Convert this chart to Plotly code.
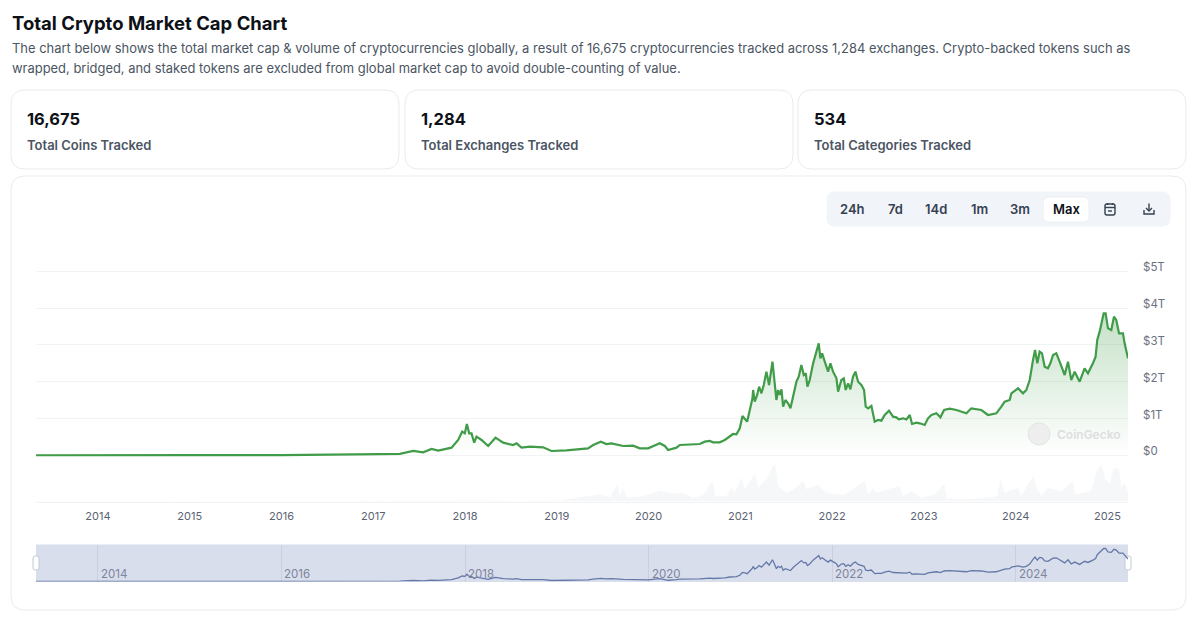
import plotly.graph_objects as go

W = 1200
H = 625

# decimal years / total market cap in $T
cap_years = [
    2013.325, 2014.0, 2014.5, 2015.0, 2016.0, 2016.5, 2017.072, 2017.290, 2017.435, 2017.544, 2017.635, 2017.707,
    2017.853, 2017.925, 2017.969, 2017.998, 2018.020, 2018.045, 2018.071, 2018.100, 2018.125, 2018.180, 2018.252,
    2018.332, 2018.416, 2018.524, 2018.561, 2018.615, 2018.706, 2018.851, 2018.942, 2019.105, 2019.251, 2019.341,
    2019.396, 2019.479, 2019.541, 2019.596, 2019.723, 2019.832, 2019.904, 2019.995, 2020.122, 2020.177, 2020.213,
    2020.304, 2020.340, 2020.558, 2020.612, 2020.667, 2020.703, 2020.776, 2020.830, 2020.885, 2020.921, 2020.957,
    2020.994, 2021.023, 2021.048, 2021.074, 2021.103, 2021.132, 2021.139, 2021.157, 2021.183, 2021.204, 2021.230,
    2021.255, 2021.284, 2021.313, 2021.350, 2021.375, 2021.393, 2021.411, 2021.429, 2021.448, 2021.466, 2021.491,
    2021.520, 2021.546, 2021.575, 2021.611, 2021.636, 2021.665, 2021.691, 2021.713, 2021.731, 2021.756, 2021.793,
    2021.822, 2021.854, 2021.872, 2021.891, 2021.920, 2021.956, 2021.981, 2022.010, 2022.047, 2022.065, 2022.101,
    2022.127, 2022.148, 2022.174, 2022.199, 2022.228, 2022.254, 2022.283, 2022.319, 2022.348, 2022.366, 2022.392,
    2022.428, 2022.464, 2022.501, 2022.537, 2022.573, 2022.620, 2022.664, 2022.700, 2022.726, 2022.773, 2022.809,
    2022.846, 2022.871, 2022.918, 2022.955, 2023.009, 2023.045, 2023.082, 2023.136, 2023.180, 2023.220, 2023.281,
    2023.354, 2023.463, 2023.517, 2023.626, 2023.699, 2023.789, 2023.844, 2023.880, 2023.935, 2023.953, 2024.025,
    2024.080, 2024.116, 2024.153, 2024.189, 2024.211, 2024.236, 2024.261, 2024.287, 2024.316, 2024.352, 2024.378,
    2024.407, 2024.443, 2024.479, 2024.534, 2024.570, 2024.606, 2024.643, 2024.697, 2024.751, 2024.788, 2024.842,
    2024.871, 2024.889, 2024.915, 2024.959, 2024.980, 2025.006, 2025.042, 2025.071, 2025.096, 2025.126, 2025.169,
    2025.187, 2025.205, 2025.224,
]
caps = [
    0.002, 0.010, 0.008, 0.005, 0.007, 0.010, 0.030, 0.040, 0.117, 0.080, 0.171, 0.126,
    0.208, 0.416, 0.642, 0.597, 0.851, 0.597, 0.597, 0.343, 0.507, 0.416, 0.253,
    0.479, 0.343, 0.280, 0.325, 0.208, 0.235, 0.217, 0.117, 0.135, 0.162, 0.189,
    0.280, 0.371, 0.307, 0.325, 0.253, 0.262, 0.189, 0.189, 0.325, 0.253, 0.144,
    0.208, 0.280, 0.307, 0.371, 0.389, 0.353, 0.353, 0.416, 0.525, 0.579, 0.570,
    0.733, 1.068, 1.005, 0.914, 1.231, 1.548, 1.775, 1.458, 1.639, 1.865, 1.684,
    1.910, 2.273, 1.910, 2.545, 1.956, 1.503, 1.775, 1.639, 1.793, 1.322, 1.503,
    1.412, 1.276, 1.639, 2.001, 2.137, 2.454, 2.182, 2.227, 1.865, 2.046, 2.499,
    2.726, 3.043, 2.635, 2.771, 2.545, 2.273, 2.499, 2.273, 2.092, 1.729, 2.046,
    2.092, 1.775, 1.956, 1.793, 2.137, 2.273, 2.001, 1.910, 1.775, 1.322, 1.276,
    1.340, 0.914, 0.959, 0.941, 1.095, 1.213, 1.050, 1.032, 0.977, 1.005, 0.977,
    1.095, 0.851, 0.887, 0.869, 0.823, 1.005, 1.095, 1.141, 1.032, 1.231, 1.270,
    1.231, 1.140, 1.276, 1.231, 1.095, 1.140, 1.322, 1.457, 1.503, 1.684, 1.820,
    1.684, 1.775, 2.046, 2.590, 2.861, 2.499, 2.816, 2.771, 2.409, 2.363, 2.499,
    2.726, 2.771, 2.544, 2.182, 2.544, 2.046, 2.273, 2.001, 2.363, 2.227, 2.499,
    2.680, 3.133, 3.360, 3.858, 3.858, 3.450, 3.405, 3.767, 3.677, 3.314, 3.314,
    3.043, 2.861, 2.635,
]

# 24h volume in $B
vol_years = [
    2013.325, 2017.0, 2017.9, 2018.0, 2018.1, 2018.5, 2019.033, 2019.251, 2019.469, 2019.578, 2019.658, 2019.687,
    2019.723, 2019.759, 2019.904, 2020.086, 2020.122, 2020.231, 2020.377, 2020.485, 2020.594, 2020.696, 2020.722,
    2020.849, 2020.903, 2020.939, 2021.012, 2021.048, 2021.157, 2021.193, 2021.284, 2021.328, 2021.375, 2021.411,
    2021.502, 2021.575, 2021.684, 2021.720, 2021.847, 2021.938, 2022.047, 2022.137, 2022.355, 2022.391, 2022.446,
    2022.482, 2022.591, 2022.736, 2022.772, 2022.863, 2022.972, 2023.117, 2023.219, 2023.244, 2023.390, 2023.589,
    2023.807, 2023.833, 2023.880, 2024.025, 2024.061, 2024.189, 2024.225, 2024.279, 2024.352, 2024.497, 2024.624,
    2024.642, 2024.824, 2024.879, 2024.933, 2024.969, 2025.024, 2025.071, 2025.122, 2025.151, 2025.187, 2025.224,
]
volumes = [
    1, 2, 8, 18, 12, 6, 11, 64, 107, 64, 267, 80,
    213, 64, 69, 149, 171, 133, 133, 53, 96, 320, 80,
    80, 213, 133, 373, 187, 427, 213, 347, 480, 597, 240,
    133, 187, 320, 187, 267, 133, 107, 107, 320, 107, 213,
    133, 187, 240, 80, 160, 53, 107, 277, 53, 27, 43,
    80, 347, 133, 213, 80, 400, 213, 80, 213, 160, 320,
    107, 160, 453, 587, 373, 267, 533, 507, 213, 293, 133,
]

year_ticks = list(range(2014, 2026))
nav_years = [2014, 2016, 2018, 2020, 2022, 2024]
cap_ticks = [0, 1, 2, 3, 4, 5]
cap_labels = ["$0", "$1T", "$2T", "$3T", "$4T", "$5T"]

title = "Total Crypto Market Cap Chart"
intro = [
    "The chart below shows the total market cap & volume of cryptocurrencies globally, a result of 16,675 "
    "cryptocurrencies tracked across 1,284 exchanges. Crypto-backed tokens such as",
    "wrapped, bridged, and staked tokens are excluded from global market cap to avoid double-counting of value.",
]
stats = [("16,675", "Total Coins Tracked"), ("1,284", "Total Exchanges Tracked"), ("534", "Total Categories Tracked")]
ranges = ["24h", "7d", "14d", "1m", "3m", "Max"]

FONT = "Inter"
X_RANGE = [2013.325, 2025.224]


def px(x):
    return x / W


def py(y):
    return 1 - y / H


def round_rect(x0, y0, x1, y1, r, fill="white", line="#e9ebef", width=1):
    x0, x1 = px(x0), px(x1)
    y0, y1 = py(y0), py(y1)
    rx = r / W
    ry = r / H
    path = (
        f"M {x0 + rx} {y0} L {x1 - rx} {y0} Q {x1} {y0} {x1} {y0 - ry} L {x1} {y1 + ry} Q {x1} {y1} {x1 - rx} {y1} "
        f"L {x0 + rx} {y1} Q {x0} {y1} {x0} {y1 + ry} L {x0} {y0 - ry} Q {x0} {y0} {x0 + rx} {y0} Z"
    )
    return dict(type="path", path=path, xref="paper", yref="paper", fillcolor=fill,
                line=dict(color=line, width=width), layer="below")


def polyline(points, color="#364152", width=1.4):
    path = "M " + " L ".join(f"{px(x)} {py(y)}" for x, y in points)
    return dict(type="path", path=path, xref="paper", yref="paper", line=dict(color=color, width=width))


def label(x, y, text, size=13, color="#4b5563", weight=400, anchor="left"):
    # annotations carry about 2px of padding on the left
    shift = -2 if anchor == "left" else 0
    return dict(x=px(x), y=py(y), xref="paper", yref="paper", text=text, showarrow=False, xanchor=anchor,
                yanchor="middle", xshift=shift, font=dict(family=FONT, size=size, color=color, weight=weight))


fig = go.Figure()

# volume goes behind, on its own little axis
fig.add_trace(go.Scatter(x=vol_years, y=volumes, yaxis="y2", mode="lines", line=dict(width=0.5, color="#f5f6f8"),
                         fill="tozeroy", fillcolor="#f6f7f9", hoverinfo="skip"))
fig.add_trace(go.Scatter(x=cap_years, y=caps, mode="lines", line=dict(color="#409c48", width=2.2), fill="tozeroy",
                         fillgradient=dict(type="vertical",
                                           colorscale=[[0, "rgba(64,156,72,0)"], [1, "rgba(64,156,72,0.3)"]])))
fig.add_trace(go.Scatter(x=cap_years, y=caps, xaxis="x2", yaxis="y3", mode="lines",
                         line=dict(color="#6478a8", width=1.3)))

shapes = [
    round_rect(11, 90, 399, 169, 14),
    round_rect(405, 90, 793, 169, 14),
    round_rect(798, 90, 1186, 169, 14),
    round_rect(11, 176, 1186, 610, 14),
    round_rect(827, 192, 1170, 226, 8, fill="#f1f4f9", line="#f1f4f9"),
    round_rect(1043, 197, 1089, 222, 6, fill="white", line="#eceef2"),
    dict(type="rect", xref="paper", yref="paper", x0=px(36), x1=px(1128), y0=py(582), y1=py(544.5),
         fillcolor="#d9deed", line=dict(width=0), layer="below"),
    round_rect(33, 556, 39, 570, 2, fill="white", line="#c4c9d4"),
    round_rect(1125, 556, 1131, 570, 2, fill="white", line="#c4c9d4"),
    # calendar icon
    round_rect(1105, 204, 1115, 215, 2, fill="rgba(0,0,0,0)", line="#364152", width=1.4),
    polyline([(1105, 207.5), (1115, 207.5)]),
    polyline([(1107.5, 203), (1107.5, 205)]),
    polyline([(1112.5, 203), (1112.5, 205)]),
    polyline([(1108, 211), (1112, 211)]),
    # download icon
    polyline([(1144, 210), (1144, 214), (1154, 214), (1154, 210)]),
    polyline([(1149, 203.5), (1149, 211)]),
    polyline([(1146, 208), (1149, 211), (1152, 208)]),
    # watermark
    dict(type="circle", xref="paper", yref="paper", x0=px(1028), x1=px(1050), y0=py(445), y1=py(423),
         fillcolor="#eeeeee", line=dict(color="#e4e4e4", width=1)),
]

annotations = [label(12, 23, title, size=18.5, color="#0d1117", weight=700)]
annotations += [label(12, 48, intro[0], size=12.95), label(12, 68, intro[1], size=12.95)]
for (num, name), left in zip(stats, [27, 421, 814]):
    annotations.append(label(left, 119, num, size=16.5, color="#0d1117", weight=700))
    annotations.append(label(left, 145, name, size=13, color="#4b5563", weight=600))
for name, mid in zip(ranges, [852, 895, 936, 979, 1020, 1066]):
    annotations.append(label(mid, 209.5, name, size=13, color="#0d1117" if name == "Max" else "#364152",
                             weight=600, anchor="center"))
annotations.append(label(1057, 434, "CoinGecko", size=12, color="#dcdee0", weight=600))
for year in nav_years:
    annotations.append(dict(x=year, y=py(574), xref="x2", yref="paper", text=str(year), showarrow=False,
                            xanchor="left", xshift=1, yanchor="middle",
                            font=dict(family=FONT, size=11.5, color="#7d849c")))

fig.update_layout(
    width=W,
    height=H,
    margin=dict(l=0, r=0, t=0, b=0),
    paper_bgcolor="white",
    plot_bgcolor="rgba(0,0,0,0)",
    showlegend=False,
    hovermode=False,
    font=dict(family=FONT),
    shapes=shapes,
    annotations=annotations,
    xaxis=dict(domain=[px(36), px(1128)], range=X_RANGE, anchor="y2", tickmode="array", tickvals=year_ticks,
               ticktext=[str(y) for y in year_ticks], showgrid=False, showline=True, linecolor="#f1f2f4",
               ticks="", ticklabelstandoff=4, tickfont=dict(family=FONT, size=11, color="#5b6472"),
               zeroline=False, automargin=False),
    # range runs a little past $0 and $5T so those two gridlines get drawn too
    yaxis=dict(domain=[py(457.14), py(263.94)], range=[-0.05, 5.2], anchor="x", side="right", tickmode="array",
               tickvals=cap_ticks, ticktext=cap_labels, gridcolor="#f2f3f5", gridwidth=1, zeroline=False,
               ticks="", ticklabelstandoff=14, ticklabelshift=-4, automargin=False,
               tickfont=dict(family=FONT, size=11.5, color="#6b7280")),
    yaxis2=dict(domain=[py(501.5), py(461.5)], range=[0, 640], anchor="x", visible=False, automargin=False),
    xaxis2=dict(domain=[px(36), px(1128)], range=X_RANGE, anchor="y3", tickmode="array", tickvals=nav_years,
                showticklabels=False, showgrid=True, gridcolor="#c9cfdf", gridwidth=1, ticks="", zeroline=False,
                automargin=False),
    yaxis3=dict(domain=[py(581.5), py(545)], range=[0, 4.27], anchor="x2", visible=False, automargin=False),
)

fig.write_html("out.html", config=dict(displayModeBar=False), post_script="document.body.style.margin='0';")
